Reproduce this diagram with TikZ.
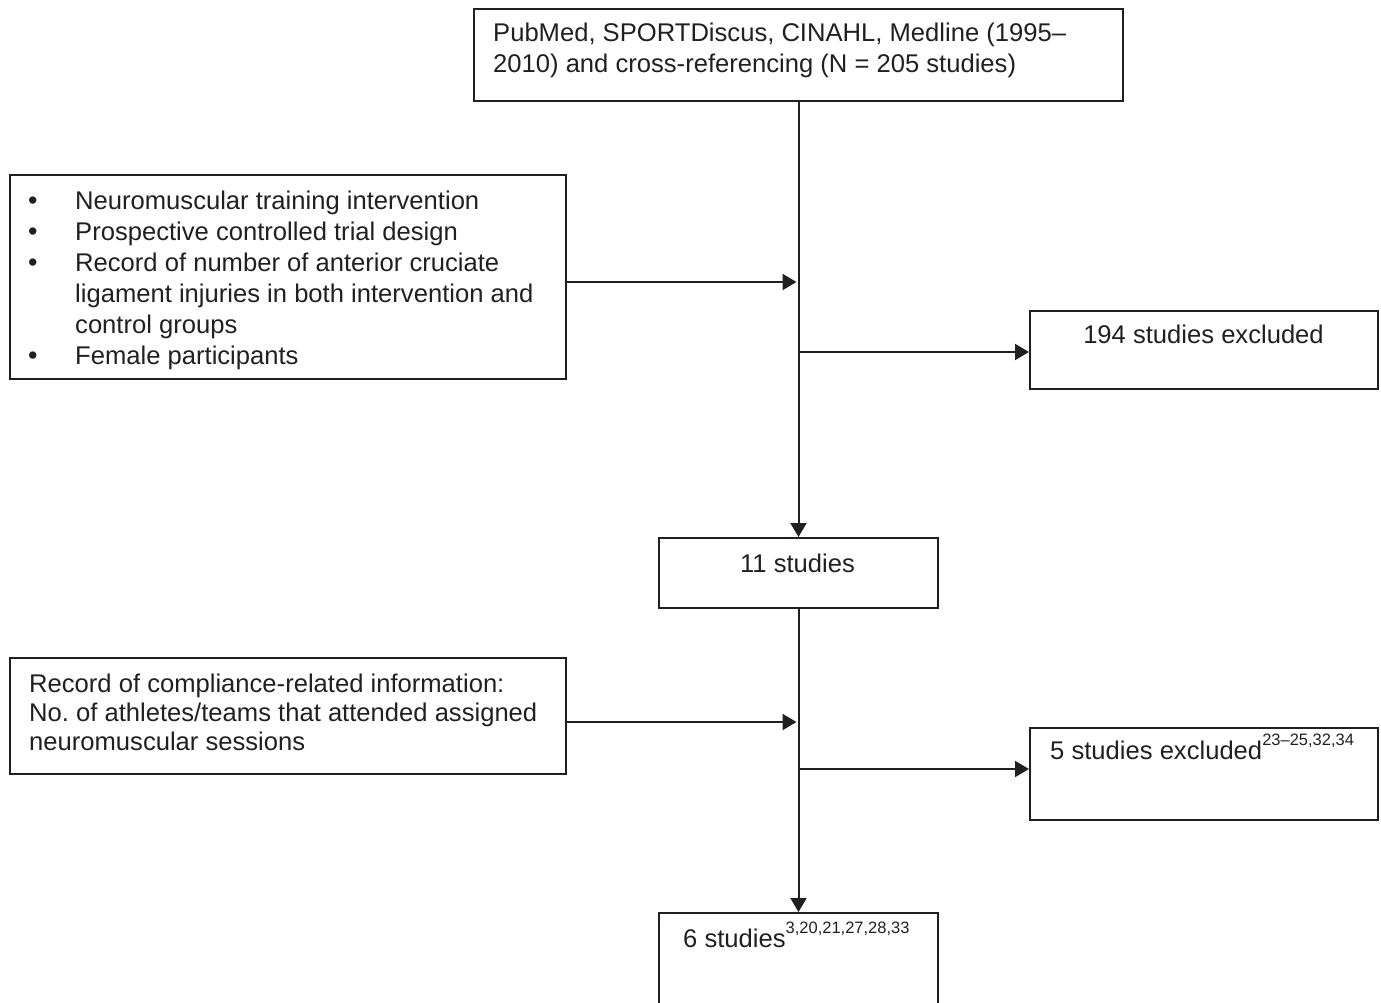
\documentclass[tikz,border=0pt]{standalone}
\usepackage{fontspec}
\setmainfont{Liberation Sans}
\usetikzlibrary{arrows.meta,calc}
\definecolor{ink}{HTML}{231F20}
\frenchspacing
\newcommand{\supr}[1]{\raisebox{13.5pt}{\fontsize{16.5}{17}\selectfont #1}}
\newcommand{\bul}{{\fontsize{27}{30}\selectfont •}}
\begin{document}
\begin{tikzpicture}[x=1pt,y=-1pt,
  box/.style={draw=ink, line width=2pt, rectangle, inner sep=0pt, anchor=north west},
  txt/.style={inner sep=0pt, text=ink, font=\fontsize{25.6}{30.8}\selectfont},
  arr/.style={draw=ink, line width=2pt, -{Triangle[length=14pt,width=16pt]}},
  ln/.style={draw=ink, line width=2pt}]
\clip (0,0) rectangle (1381,1003);
% boxes
\node[box, minimum width=649pt, minimum height=92pt] (top) at (473,8) {};
\node[box, minimum width=556pt, minimum height=204pt] (crit) at (9,174) {};
\node[box, minimum width=348pt, minimum height=78pt] (ex1) at (1029,310) {};
\node[box, minimum width=279pt, minimum height=70pt] (s11) at (658,537) {};
\node[box, minimum width=556pt, minimum height=116pt] (comp) at (9,657) {};
\node[box, minimum width=348pt, minimum height=92pt] (ex2) at (1029,727) {};
\node[box, minimum width=279pt, minimum height=130pt] (s6) at (658,912) {};
% texts
\node[txt, anchor=base west] (ttop) at (493,42) {\parbox[t]{620pt}{\raggedright\fontsize{25.6}{31}\selectfont
  PubMed, SPORTDiscus, CINAHL, Medline (1995–\\2010) and cross-referencing (N = 205 studies)}};
\node[txt, anchor=base west] (tcrit) at (28,210) {\fontsize{25.6}{30.8}\selectfont
  \begin{tabular}[t]{@{}p{47pt}@{}p{480pt}@{}}
  \bul & Neuromuscular training intervention\\
  \bul & Prospective controlled trial design\\
  \bul & Record of number of anterior cruciate\newline ligament injuries in both intervention and\newline control groups\\
  \bul & Female participants
  \end{tabular}};
\node[txt, anchor=base] (tex1) at (1203.5,343) {194 studies excluded};
\node[txt, anchor=base] (ts11) at (797.5,572) {11 studies};
\node[txt, anchor=base west] (tcomp) at (29,692) {\parbox[t]{530pt}{\raggedright\fontsize{25.6}{29}\selectfont
  Record of compliance-related information:\\No. of athletes/teams that attended assigned\\neuromuscular sessions}};
\node[txt, anchor=base west] (tex2) at (1050,759) {5 studies excluded\supr{23–25,32,34}};
\node[txt, anchor=base west] (ts6) at (683,947) {6 studies\supr{3,20,21,27,28,33}};
% connectors
\coordinate (j1) at (797.5,282);
\coordinate (j2) at (797.5,352);
\coordinate (j3) at (797.5,722);
\coordinate (j4) at (797.5,769);
\draw[arr] (top.south) -- (s11.north);
\draw[arr, shorten >=1pt] (crit.east |- j1) -- (j1);
\draw[arr] (j2) -- (j2 -| ex1.west);
\draw[arr] (s11.south) -- (s6.north);
\draw[arr, shorten >=1pt] (comp.east |- j3) -- (j3);
\draw[arr] (j4) -- (j4 -| ex2.west);
\end{tikzpicture}
\end{document}
